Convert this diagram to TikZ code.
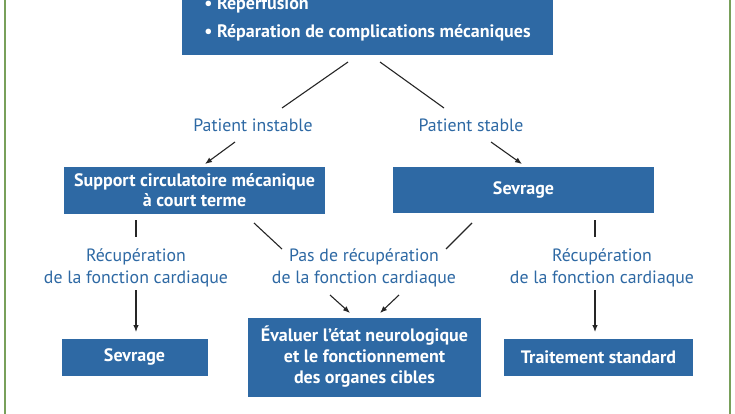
\documentclass[tikz,border=0pt]{standalone}
\usepackage{fontspec}
\setmainfont{PT Sans}
\usetikzlibrary{arrows.meta}
\definecolor{boxblue}{HTML}{2E69A4}
\definecolor{framegreen}{HTML}{78A05A}
\begin{document}
\begin{tikzpicture}[x=1pt,y=-1pt,
  box/.style={fill=boxblue, text=white, font=\fontsize{18}{20}\selectfont\bfseries, align=center, inner sep=0pt},
  lbl/.style={text=boxblue, font=\fontsize{17.8}{22}\selectfont, align=center, inner sep=0pt},
  conn/.style={draw=black!85, line width=1.1pt},
  arr/.style={conn, -{Latex[length=7pt,width=5.5pt]}}]
\useasboundingbox (0,0) rectangle (735,413);
\clip (0,0) rectangle (735,413);
\fill[white] (0,0) rectangle (735,413);
\draw[framegreen, line width=2.5pt] (5,-20) rectangle (730,433);

% boxes
\node[box, minimum width=371pt, minimum height=72pt, align=left,
      font=\fontsize{18}{28}\selectfont\bfseries] (top) at (367.5,19)
  {• Reperfusion\\• Réparation de complications mécaniques};
\node[box, minimum width=261pt, minimum height=47pt] (mcs) at (194.5,190.5)
  {Support circulatoire mécanique\\à court terme};
\node[box, minimum width=261pt, minimum height=46pt] (sev1) at (523.5,190)
  {Sevrage};
\node[box, minimum width=146pt, minimum height=37pt] (sev2) at (134.5,357)
  {Sevrage};
\node[box, minimum width=233pt, minimum height=79pt, font=\fontsize{18}{21}\selectfont\bfseries] (eval) at (364.5,357)
  {Évaluer l’état neurologique\\et le fonctionnement\\des organes cibles};
\node[box, minimum width=189pt, minimum height=37pt] (trt) at (598.5,357.5)
  {Traitement standard};

% labels
\node[lbl] (pi) at (253,125) {Patient instable};
\node[lbl] (ps) at (471,125) {Patient stable};
\node[lbl] (rl) at (136,268) {Récupération\\de la fonction cardiaque};
\node[lbl] (nr) at (364,268) {Pas de récupération\\de la fonction cardiaque};
\node[lbl] (rr) at (602,268) {Récupération\\de la fonction cardiaque};

% connector end points
\coordinate (a1) at (348,62);  \coordinate (a2) at (282,108);
\coordinate (b1) at (380,62);  \coordinate (b2) at (444,108);
\coordinate (c1) at (235,142); \coordinate (c2) at (205,164);
\coordinate (d1) at (491,142); \coordinate (d2) at (522,164);
\coordinate (e1) at (136,220); \coordinate (e2) at (136,237);
\coordinate (f1) at (254,223); \coordinate (f2) at (282,249);
\coordinate (g1) at (472,223); \coordinate (g2) at (446,249);
\coordinate (h1) at (595,220); \coordinate (h2) at (595,237);
\coordinate (i1) at (136,290); \coordinate (i2) at (136,332);
\coordinate (j1) at (330,295); \coordinate (j2) at (350,313);
\coordinate (k1) at (399,295); \coordinate (k2) at (380,313);
\coordinate (l1) at (595,290); \coordinate (l2) at (595,332);

\draw[conn] (a1) -- (a2);
\draw[conn] (b1) -- (b2);
\draw[arr] (c1) -- (c2);
\draw[arr] (d1) -- (d2);
\draw[conn] (e1) -- (e2);
\draw[conn] (f1) -- (f2);
\draw[conn] (g1) -- (g2);
\draw[conn] (h1) -- (h2);
\draw[arr] (i1) -- (i2);
\draw[arr] (j1) -- (j2);
\draw[arr] (k1) -- (k2);
\draw[arr] (l1) -- (l2);
\end{tikzpicture}
\end{document}
